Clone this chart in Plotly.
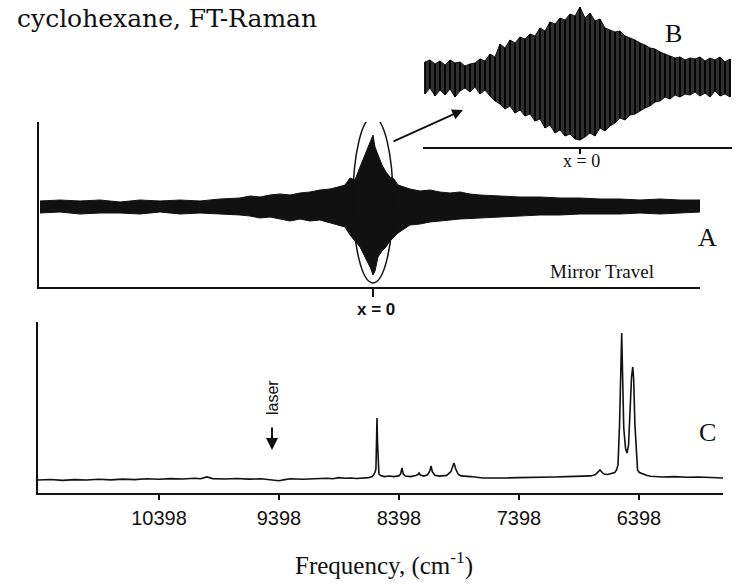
import plotly.graph_objects as go

W, H = 741, 585

# ---------- Panel A: interferogram envelope (mirror travel, arbitrary units; x=0 at ZPD)
a_travel = [-333, -313, -293, -273, -253, -233, -213, -193, -173, -153, -133, -123, -113, -103,
            -93, -83, -73, -63, -53, -43, -35, -28, -23, -18, -13, -9, -5, -2, 0, 2, 5, 9, 13,
            17, 21, 25, 31, 37, 47, 57, 67, 77, 87, 97, 107, 127, 147, 167, 187, 207, 227,
            247, 267, 287, 307, 327]
a_upper = [6, 7, 6, 7, 5, 7, 6, 7, 6, 8, 9, 11, 10, 12, 13, 12, 14, 15, 17, 18, 20, 22, 29,
           27, 40, 50, 60, 67, 72, 60, 52, 42, 35, 30, 28, 22, 20, 18, 16, 17, 15, 14, 15,
           13, 12, 11, 10, 10, 9, 9, 8, 8, 7, 8, 7, 7]
a_lower = [-6, -5, -7, -6, -6, -7, -5, -7, -6, -7, -8, -9, -11, -10, -12, -14, -12, -14, -13,
           -16, -18, -20, -28, -34, -40, -48, -56, -62, -68, -64, -50, -44, -40, -34, -30, -26,
           -22, -18, -17, -15, -14, -13, -12, -11, -11, -10, -9, -8, -8, -7, -7, -7, -6, -7,
           -6, -5]

# ---------- Panel B: expanded view around x = 0
b_travel = [-155, -150, -145, -140, -135, -130, -125, -120, -115, -110, -105, -100, -95, -90,
            -85, -80, -75, -70, -65, -60, -55, -50, -45, -40, -35, -30, -25, -20, -15, -10,
            -5, 0, 5, 10, 15, 20, 25, 30, 35, 40, 45, 50, 55, 60, 65, 70, 75, 80, 85, 90, 95,
            100, 105, 110, 115, 120, 125, 130, 135, 140, 145, 150]
b_upper = [14, 16, 12, 15, 11, 16, 13, 14, 10, 12, 13, 17, 15, 22, 19, 32, 28, 36, 33, 39, 37,
           42, 40, 48, 45, 54, 52, 58, 56, 62, 60, 69, 58, 63, 55, 57, 48, 46, 44, 45, 40, 38,
           36, 33, 31, 28, 27, 24, 22, 20, 18, 19, 16, 18, 17, 19, 15, 18, 16, 19, 14, 17]
b_lower = [-18, -12, -20, -14, -19, -13, -21, -15, -12, -16, -11, -18, -14, -20, -25, -28, -33,
           -30, -37, -34, -40, -38, -45, -43, -52, -49, -57, -54, -60, -58, -63, -64, -61,
           -57, -60, -52, -55, -50, -47, -42, -44, -39, -38, -35, -32, -30, -26, -25, -21,
           -23, -19, -21, -18, -19, -16, -20, -17, -21, -15, -20, -18, -21]

# ---------- Panel C: FT-Raman spectrum (frequency in cm-1, intensity arbitrary)
c_freq = [11406, 11300, 11200, 11100, 11000, 10900, 10800, 10700, 10600, 10500, 10398, 10300,
          10200, 10100, 10050, 10000, 9950, 9850, 9750, 9650, 9550, 9450, 9398, 9350, 9300,
          9200, 9100, 9000, 8950, 8900, 8850, 8800, 8750, 8700, 8650, 8620, 8600, 8590, 8584,
          8581, 8577, 8572, 8565, 8550, 8520, 8480, 8440, 8400, 8385, 8373, 8362, 8345, 8300,
          8260, 8240, 8231, 8220, 8190, 8160, 8140, 8131, 8120, 8100, 8060, 8000, 7965, 7950,
          7940, 7925, 7905, 7880, 7850, 7800, 7700, 7600, 7500, 7400, 7300, 7200, 7100, 7000,
          6900, 6800, 6760, 6735, 6723, 6710, 6690, 6660, 6640, 6620, 6600, 6585, 6573, 6560,
          6550, 6542, 6535, 6525, 6510, 6498, 6485, 6472, 6460, 6450, 6442, 6432, 6420, 6410,
          6395, 6365, 6330, 6300, 6200, 6100, 6000, 5900, 5800, 5698]
c_int = [7.6, 7.9, 7.4, 7.8, 7.6, 8.0, 7.7, 8.1, 7.8, 8.3, 8.0, 8.4, 8.2, 8.6, 8.3, 9.4, 8.4,
         8.2, 8.5, 8.1, 8.3, 7.6, 7.2, 7.8, 8.3, 8.0, 8.4, 8.6, 8.3, 9.0, 8.6, 8.8, 8.5, 8.7,
         9.0, 9.6, 11.7, 14, 30, 43.9, 30, 14, 11.1, 10.2, 9.6, 9.9, 9.6, 10.0, 11.0, 14.6,
         11.0, 9.9, 9.6, 10.2, 10.8, 11.7, 10.5, 9.9, 10.6, 13.0, 15.8, 12.5, 10.4, 9.9, 10.3,
         12.5, 16.0, 17.5, 14.0, 11.0, 10.0, 9.9, 9.6, 8.8, 8.6, 8.8, 9.0, 9.0, 9.2, 9.4, 9.6,
         9.8, 10.0, 10.8, 12.5, 13.5, 12.4, 11.1, 10.8, 11.3, 11.6, 12.0, 13.5, 16.4, 40, 75,
         93.6, 70, 38, 26, 23.4, 28, 50, 68, 73.7, 66, 40, 20, 13.5, 12, 11.1, 10.2, 9.8, 9.4,
         9.6, 9.2, 9.4, 9.0, 8.8]
c_tickvals = [10398, 9398, 8398, 7398, 6398]
c_ticktext = ["10398", "9398", "8398", "7398", "6398"]

INK = "#111111"
SERIF = "Liberation Serif, Times New Roman, serif"
SANS = "Liberation Sans, Arial, sans-serif"


def px_x(p):
    return p / W


def px_y(p):
    return 1 - p / H


fig = go.Figure()

# Panel A envelope as a filled band
fig.add_trace(go.Scatter(
    x=a_travel + a_travel[::-1], y=a_upper + a_lower[::-1],
    fill="toself", fillcolor=INK, mode="lines", line=dict(color=INK, width=1),
    xaxis="x", yaxis="y", hoverinfo="skip", showlegend=False))

# Panel B envelope: dark band with black vertical strokes
fig.add_trace(go.Scatter(
    x=b_travel + b_travel[::-1], y=b_upper + b_lower[::-1],
    fill="toself", fillcolor="#303030", mode="lines", line=dict(color=INK, width=1),
    xaxis="x2", yaxis="y2", hoverinfo="skip", showlegend=False))
sx, sy = [], []
for t, u, l in zip(b_travel, b_upper, b_lower):
    sx += [t, t, None]
    sy += [l, u, None]
fig.add_trace(go.Scatter(
    x=sx, y=sy, mode="lines", line=dict(color="#000000", width=1.8),
    xaxis="x2", yaxis="y2", hoverinfo="skip", showlegend=False, connectgaps=False))

# Panel C spectrum
fig.add_trace(go.Scatter(
    x=c_freq, y=c_int, mode="lines", line=dict(color=INK, width=1.6),
    xaxis="x3", yaxis="y3", hoverinfo="skip", showlegend=False))

axis_common = dict(showgrid=False, zeroline=False, linecolor=INK, linewidth=2,
                   automargin=False)

fig.update_layout(
    width=W, height=H, margin=dict(l=0, r=0, t=0, b=0, pad=0, autoexpand=False),
    paper_bgcolor="white", plot_bgcolor="rgba(0,0,0,0)",
    xaxis=dict(domain=[px_x(39), px_x(700)], range=[-334, 327], anchor="y",
               showline=True, tickvals=[0], ticks="outside", ticklen=8, tickwidth=2,
               tickcolor=INK, showticklabels=False, **axis_common),
    yaxis=dict(domain=[px_y(287), px_y(122)], range=[-80, 85], anchor="x",
               showline=True, ticks="", showticklabels=False, **axis_common),
    xaxis2=dict(domain=[px_x(423), px_x(732)], range=[-157, 152], anchor="y2",
                showline=True, tickvals=[0], ticks="outside", ticklen=5, tickwidth=1.5,
                tickcolor=INK, showticklabels=False, **axis_common),
    yaxis2=dict(domain=[px_y(147), px_y(0)], range=[-71, 76], anchor="x2",
                showline=False, showticklabels=False, ticks="", **axis_common),
    xaxis3=dict(domain=[px_x(38), px_x(723)], range=[11406, 5698], anchor="y3",
                showline=True, tickvals=c_tickvals, ticktext=c_ticktext, ticks="outside",
                ticklen=5, tickwidth=2, tickcolor=INK, ticklabelstandoff=1,
                tickfont=dict(family=SANS, size=20, color=INK), **axis_common),
    yaxis3=dict(domain=[px_y(493), px_y(322)], range=[0, 100], anchor="x3",
                showline=True, showticklabels=False, ticks="", **axis_common),
)

# ellipse around the centre burst
fig.add_shape(type="circle", xref="x", yref="y", x0=-20, x1=20, y0=-76, y1=90,
              line=dict(color=INK, width=1.5))

ann = []
ann.append(dict(text="cyclohexane, FT-Raman", x=px_x(15), y=px_y(18), xanchor="left",
                font=dict(family="DejaVu Serif, serif", size=25, color=INK)))
ann.append(dict(text="B", x=px_x(673), y=px_y(33),
                font=dict(family=SERIF, size=26, color=INK)))
ann.append(dict(text="A", x=px_x(707), y=px_y(237),
                font=dict(family=SERIF, size=26, color=INK)))
ann.append(dict(text="C", x=px_x(707), y=px_y(432),
                font=dict(family=SERIF, size=26, color=INK)))
ann.append(dict(text="Mirror Travel", x=px_x(602), y=px_y(271),
                font=dict(family=SERIF, size=19, color=INK)))
ann.append(dict(text="<b>x = 0</b>", x=px_x(376), y=px_y(309),
                font=dict(family=SANS, size=17, color=INK)))
ann.append(dict(text="x = 0", x=px_x(581), y=px_y(161),
                font=dict(family=SERIF, size=18, color=INK)))
ann.append(dict(text="laser", x=px_x(272), y=px_y(398), textangle=-90,
                font=dict(family=SANS, size=16, color=INK)))
ann.append(dict(text="Frequency, (cm<sup>-1</sup>)", x=px_x(384), y=px_y(563),
                font=dict(family=SERIF, size=25, color=INK)))
for a in ann:
    a.update(showarrow=False, xref="paper", yref="paper", yanchor="middle")
    a.setdefault("xanchor", "center")
# laser arrow
ann.append(dict(text="", x=px_x(272), y=px_y(450), xref="paper", yref="paper",
                showarrow=True, ax=0, ay=-24, arrowhead=2, arrowsize=1.2, arrowwidth=2,
                arrowcolor=INK))
# arrow from ellipse to inset B
ann.append(dict(text="", x=px_x(463), y=px_y(110), xref="paper", yref="paper",
                showarrow=True, ax=-71, ay=32, arrowhead=2, arrowsize=1.2, arrowwidth=1.8,
                arrowcolor=INK))
fig.update_layout(annotations=ann)

fig.write_html("out.html", config={"displayModeBar": False},
               post_script="document.body.style.margin='0';")
